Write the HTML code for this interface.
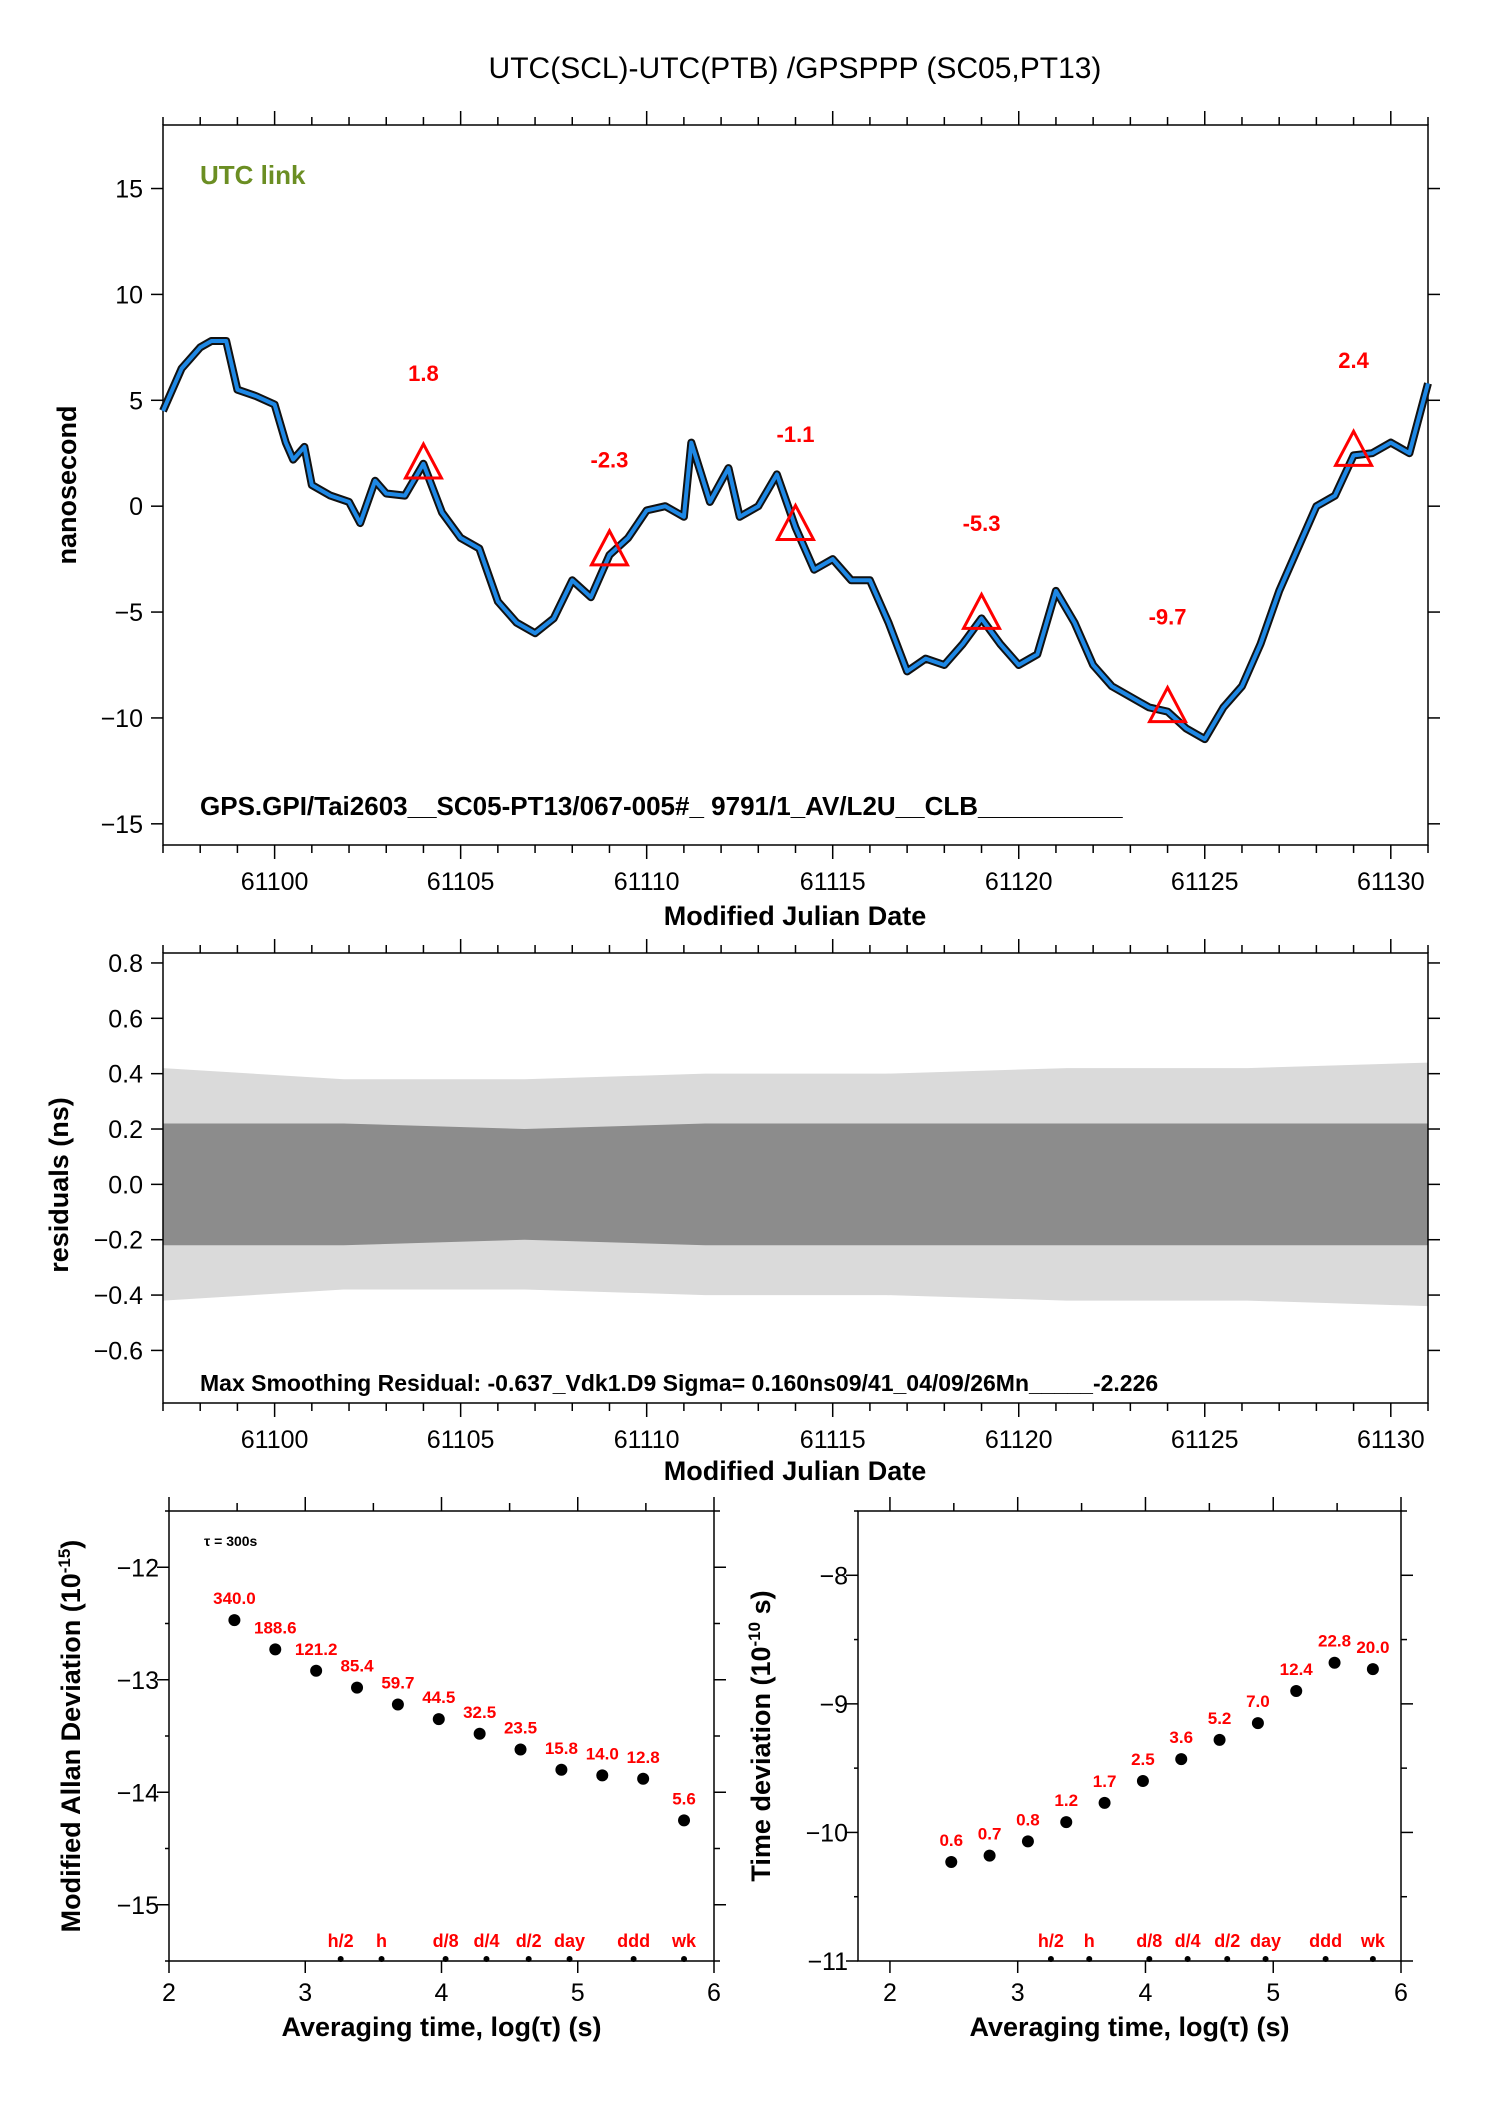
<!DOCTYPE html>
<html><head><meta charset="utf-8"><style>
html,body{margin:0;padding:0;background:#fff}
svg{display:block;font-family:"Liberation Sans",Arial,sans-serif}
</style></head><body>
<svg id="s" width="1488" height="2105" viewBox="0 0 1488 2105">
<text x="795" y="78" font-size="30" text-anchor="middle">UTC(SCL)-UTC(PTB)  /GPSPPP  (SC05,PT13)</text>
</svg>
<script>
// ---------- DATA ----------
const tsMjd=[61097,61097.5,61098,61098.3,61098.7,61099,61099.5,61100,61100.3,61100.5,61100.8,61101,61101.5,61102,61102.3,61102.7,61103,61103.5,61104,61104.5,61105,61105.5,61106,61106.5,61107,61107.5,61108,61108.5,61109,61109.5,61110,61110.5,61111,61111.2,61111.7,61112.2,61112.5,61113,61113.5,61114,61114.5,61115,61115.5,61116,61116.5,61117,61117.5,61118,61118.5,61119,61119.5,61120,61120.5,61121,61121.5,61122,61122.5,61123,61123.5,61124,61124.5,61125,61125.5,61126,61126.5,61127,61127.5,61128,61128.5,61129,61129.5,61130,61130.5,61131];
const tsNs=[4.5,6.5,7.5,7.8,7.8,5.5,5.2,4.8,3.0,2.2,2.8,1.0,0.5,0.2,-0.8,1.2,0.6,0.5,2.0,-0.3,-1.5,-2.0,-4.5,-5.5,-6.0,-5.3,-3.5,-4.3,-2.3,-1.5,-0.2,0.0,-0.5,3.0,0.2,1.8,-0.5,0.0,1.5,-1.0,-3.0,-2.5,-3.5,-3.5,-5.5,-7.8,-7.2,-7.5,-6.5,-5.3,-6.5,-7.5,-7.0,-4.0,-5.5,-7.5,-8.5,-9.0,-9.5,-9.7,-10.5,-11.0,-9.5,-8.5,-6.5,-4.0,-2.0,0.0,0.5,2.4,2.5,3.0,2.5,5.8];
const triMjd=[61104,61109,61114,61119,61124,61129];
const triNs=[1.8,-2.3,-1.1,-5.3,-9.7,2.4];
const triLabels=["1.8","-2.3","-1.1","-5.3","-9.7","2.4"];
const topYTicks=[15,10,5,0,-5,-10,-15];
const mjdTicks=[61100,61105,61110,61115,61120,61125,61130];
const resYTicks=[0.8,0.6,0.4,0.2,0.0,-0.2,-0.4,-0.6];
const resCoreHalf=[0.22,0.22,0.2,0.22,0.22,0.22,0.22,0.22];
const resOuterHalf=[0.42,0.38,0.38,0.4,0.4,0.42,0.42,0.44];
const adevX=[2.48,2.78,3.08,3.38,3.68,3.98,4.28,4.58,4.88,5.18,5.48,5.78];
const adevY=[-12.47,-12.73,-12.92,-13.07,-13.22,-13.35,-13.48,-13.62,-13.8,-13.85,-13.88,-14.25];
const adevLabels=["340.0","188.6","121.2","85.4","59.7","44.5","32.5","23.5","15.8","14.0","12.8","5.6"];
const tdevY=[-10.23,-10.18,-10.07,-9.92,-9.77,-9.6,-9.43,-9.28,-9.15,-8.9,-8.68,-8.73];
const tdevLabels=["0.6","0.7","0.8","1.2","1.7","2.5","3.6","5.2","7.0","12.4","22.8","20.0"];
const markX=[3.26,3.56,4.03,4.33,4.64,4.94,5.41,5.78];
const markLabels=["h/2","h","d/8","d/4","d/2","day","ddd","wk"];
const adevYTicks=[-12,-13,-14,-15];
const tdevYTicks=[-8,-9,-10,-11];
const logTicks=[2,3,4,5,6];

const NS='http://www.w3.org/2000/svg';
const svg=document.getElementById('s');
function el(t,a,p){const e=document.createElementNS(NS,t);for(const k in a)e.setAttribute(k,a[k]);(p||svg).appendChild(e);return e;}
function txt(x,y,s,size,o,p){const e=el('text',Object.assign({x:x,y:y,'font-size':size},o||{}),p);e.textContent=s;return e;}
function lin(d0,d1,r0,r1){return v=>r0+(v-d0)/(d1-d0)*(r1-r0);}

// ---------- TOP CHART ----------
const T={l:163,r:1428,t:125,b:845};
const tx=lin(61097,61131,T.l,T.r), ty=lin(18,-16,T.t,T.b);
let g=el('g',{});


let r=el('rect',{x:T.l,y:T.t,width:T.r-T.l,height:T.b-T.t,fill:'none',stroke:'#000','stroke-width':1.5},g);

for(let d=61097;d<=61131;d++){const big=(d%5===0);const x=tx(d);
 el('line',{x1:x,x2:x,y1:T.b,y2:T.b+(big?14:8),stroke:'#000','stroke-width':1.5},g);
 el('line',{x1:x,x2:x,y1:T.t,y2:T.t-(big?14:8),stroke:'#000','stroke-width':1.5},g);}
mjdTicks.forEach(v=>{const t=txt(tx(v),T.b+45,String(v),25,{'text-anchor':'middle'},g);
 });
topYTicks.forEach(v=>{const y=ty(v);
 el('line',{x1:T.l-12,x2:T.l,y1:y,y2:y,stroke:'#000','stroke-width':1.5},g);
 el('line',{x1:T.r,x2:T.r+12,y1:y,y2:y,stroke:'#000','stroke-width':1.5},g);
 const t=txt(T.l-20,y+9,v<0?'\u2212'+(-v):String(v),25,{'text-anchor':'end'},g);
 });
let pts=tsMjd.map((m,i)=>tx(m).toFixed(1)+','+ty(tsNs[i]).toFixed(1)).join(' ');
let pl=el('polyline',{points:pts,fill:'none',stroke:'#111','stroke-width':8,'stroke-linejoin':'round'},g);

pl=el('polyline',{points:pts,fill:'none',stroke:'#1e88e5','stroke-width':4,'stroke-linejoin':'round'},g);

triMjd.forEach((m,i)=>{const x=tx(m),y=ty(triNs[i]);
 const p=el('polygon',{points:`${x},${y-24} ${x-18},${y+10} ${x+18},${y+10}`,fill:'none',stroke:'#f00','stroke-width':3},g);
 
 const t=txt(x,ty(triNs[i]+4.5)+8,triLabels[i],22,{'text-anchor':'middle',fill:'#f00','font-weight':'bold'},g);
 });
let t=txt(200,184,'UTC link',26,{fill:'#6b8e23','font-weight':'bold'},g);

t=txt(200,815,'GPS.GPI/Tai2603__SC05-PT13/067-005#_  9791/1_AV/L2U__CLB__________',26,{'font-weight':'bold'},g);

t=txt(795,925,'Modified Julian Date',27,{'text-anchor':'middle','font-weight':'bold'},g);

t=txt(0,0,'nanosecond',27,{'text-anchor':'middle','font-weight':'bold',transform:'translate(76,485) rotate(-90)'},g);


// ---------- RESIDUALS ----------
const M={l:163,r:1428,t:953,b:1403};
const mx=lin(61097,61131,M.l,M.r), my=lin(0.836,-0.79,M.t,M.b);
g=el('g',{});


function band(arr,fill,name){const n=arr.length;const up=[],dn=[];
 arr.forEach((h,i)=>{const m=61097+i*34/(n-1);up.push(mx(m)+','+my(h));dn.unshift(mx(m)+','+my(-h));});
 const p=el('polygon',{points:up.concat(dn).join(' '),fill:fill},g);
 }
band(resOuterHalf,'#dadada','residual-outer-band');
band(resCoreHalf,'#8c8c8c','residual-core-band');
r=el('rect',{x:M.l,y:M.t,width:M.r-M.l,height:M.b-M.t,fill:'none',stroke:'#000','stroke-width':1.5},g);

for(let d=61097;d<=61131;d++){const big=(d%5===0);const x=mx(d);
 el('line',{x1:x,x2:x,y1:M.b,y2:M.b+(big?14:8),stroke:'#000','stroke-width':1.5},g);
 el('line',{x1:x,x2:x,y1:M.t,y2:M.t-(big?14:8),stroke:'#000','stroke-width':1.5},g);}
mjdTicks.forEach(v=>{const t=txt(mx(v),M.b+45,String(v),25,{'text-anchor':'middle'},g);
 });
resYTicks.forEach(v=>{const y=my(v);
 el('line',{x1:M.l-12,x2:M.l,y1:y,y2:y,stroke:'#000','stroke-width':1.5},g);
 el('line',{x1:M.r,x2:M.r+12,y1:y,y2:y,stroke:'#000','stroke-width':1.5},g);
 const t=txt(M.l-20,y+9,(v<0?'\u2212':'')+Math.abs(v).toFixed(1),25,{'text-anchor':'end'},g);
 });
t=txt(200,1391,'Max Smoothing Residual: -0.637_Vdk1.D9  Sigma= 0.160ns09/41_04/09/26Mn_____-2.226',23,{'font-weight':'bold'},g);

t=txt(795,1480,'Modified Julian Date',27,{'text-anchor':'middle','font-weight':'bold'},g);

t=txt(0,0,'residuals (ns)',27,{'text-anchor':'middle','font-weight':'bold',transform:'translate(68,1185) rotate(-90)'},g);


// ---------- STABILITY PLOTS ----------
function stab(B,xr,yr,ys,labels,yticks,name,ytitle,titleX,tau){
 const sx=lin(xr[0],xr[1],B.l,B.r), sy=lin(yr[0],yr[1],B.t,B.b);
 const g=el('g',{});
 
 
 let r=el('rect',{x:B.l,y:B.t,width:B.r-B.l,height:B.b-B.t,fill:'none',stroke:'#000','stroke-width':1.5},g);
 
 for(let v=Math.ceil(xr[0]*2)/2;v<=xr[1]+1e-9;v+=0.5){const x=sx(v),big=Number.isInteger(v);
  el('line',{x1:x,x2:x,y1:B.b,y2:B.b+(big?12:0),stroke:'#000','stroke-width':1.5},g);
  el('line',{x1:x,x2:x,y1:B.t,y2:B.t-(big?14:8),stroke:'#000','stroke-width':1.5},g);}
 logTicks.forEach(v=>{const t=txt(sx(v),B.b+40,String(v),25,{'text-anchor':'middle'},g);
  });
 for(let v=Math.floor(yr[0]*2)/2;v>=yr[1]-1e-9;v-=0.5){const y=sy(v),big=Number.isInteger(v);
  el('line',{x1:B.l-(big?12:4),x2:B.l,y1:y,y2:y,stroke:'#000','stroke-width':1.5},g);
  el('line',{x1:B.r,x2:B.r+(big?12:6),y1:y,y2:y,stroke:'#000','stroke-width':1.5},g);}
 yticks.forEach(v=>{const t=txt(B.l-10,sy(v)+9,'\u2212'+(-v),25,{'text-anchor':'end'},g);
  });
 ys.forEach((v,i)=>{const c=el('circle',{cx:sx(adevX[i]),cy:sy(v),r:6,fill:'#000'},g);
  
  const t=txt(sx(adevX[i]),sy(v)-16,labels[i],17,{'text-anchor':'middle',fill:'#f00','font-weight':'bold'},g);
  });
 markX.forEach((v,i)=>{const c=el('circle',{cx:sx(v),cy:B.b-2,r:3,fill:'#000'},g);
  
  const t=txt(sx(v),B.b-14,markLabels[i],18,{'text-anchor':'middle',fill:'#f00','font-weight':'bold'},g);
  });
 let t=txt((B.l+B.r)/2,B.b+75,'Averaging time, log(\u03c4) (s)',27,{'text-anchor':'middle','font-weight':'bold'},g);
 
 t=el('text',{'font-size':27,'text-anchor':'middle','font-weight':'bold',transform:`translate(${titleX},${(B.t+B.b)/2}) rotate(-90)`},g);
 t.innerHTML=ytitle;
 
 if(tau){t=txt(B.l+35,B.t+35,'\u03c4 = 300s',14,{'font-weight':'bold'},g);
  }
}
stab({l:169,r:714,t:1511,b:1961},[2,6],[-11.5,-15.5],adevY,adevLabels,adevYTicks,'modified-allan-deviation-chart','Modified Allan Deviation (10<tspan font-size="17" dy="-10">-15</tspan><tspan dy="10">)</tspan>',80,true);
stab({l:858,r:1401,t:1511,b:1961},[1.75,6],[-7.5,-11],tdevY,tdevLabels,tdevYTicks,'time-deviation-chart','Time deviation (10<tspan font-size="17" dy="-10">-10</tspan><tspan dy="10"> s)</tspan>',770,false);
</script>
</body></html>
